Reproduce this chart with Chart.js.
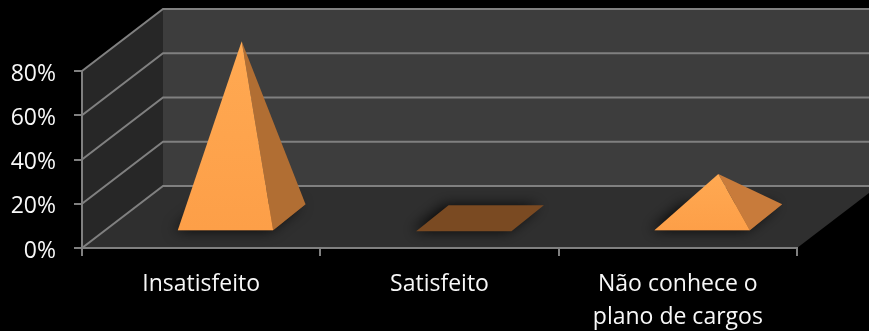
<!DOCTYPE html>
<html>
<head>
<meta charset="utf-8">
<style>
    html, body { margin: 0; padding: 0; background: #000; overflow: hidden; }
    canvas { display: block; }
</style>
<script src="https://cdn.jsdelivr.net/npm/chart.js@4"></script>
</head>
<body>
<canvas id="chart" width="869" height="331"></canvas>
<script>
const categories = ["Insatisfeito", "Satisfeito", ["Não conhece o", "plano de cargos"]];
const values = [80, 0, 20];
const tickLabels = ["0%", "20%", "40%", "60%", "80%"];

// oblique projection of the 3d box, in pixels per full depth
const DEPTH_X = 81;
const DEPTH_Y = -62;
const FRONT_X = 0.3, FRONT_Y = 0.27;
const BACK_X = 0.7, BACK_Y = 0.69;

const GRID_COLOR = "#808080";
const TEXT_COLOR = "#f8f8f8";
const FRONT_TOP = "#ffa952";
const FRONT_BOTTOM = "#fd9f48";
const SIDE_COLORS = ["#b16e33", "#c87b3b", "#c87b3b"];
const FLAT_COLOR = "#7a4a22";

function poly(ctx, pts, fill) {
    ctx.beginPath();
    pts.forEach((p, i) => (i ? ctx.lineTo(p[0], p[1]) : ctx.moveTo(p[0], p[1])));
    ctx.closePath();
    ctx.fillStyle = fill;
    ctx.fill();
}

class PyramidController extends Chart.BarController {
    draw() {
        const ctx = this.chart.ctx;
        const bars = this._cachedMeta.data;
        const data = this.getDataset().data;

        bars.forEach((bar, i) => {
            const half = bar.width / 2;
            const fx = FRONT_X * DEPTH_X, fy = FRONT_Y * DEPTH_Y;
            const bx = BACK_X * DEPTH_X, by = BACK_Y * DEPTH_Y;
            const fl = [bar.x - half + fx, bar.base + fy];
            const fr = [bar.x + half + fx, bar.base + fy];
            const br = [bar.x + half + bx, bar.base + by];
            const bl = [bar.x - half + bx, bar.base + by];
            const apex = [bar.x + (fx + bx) / 2, bar.y + (fy + by) / 2];

            ctx.save();
            ctx.shadowColor = "rgba(0,0,0,0.85)";
            ctx.shadowBlur = 14;
            ctx.shadowOffsetX = -4;
            poly(ctx, [fl, fr, br, bl], FLAT_COLOR);
            ctx.restore();

            if (data[i] > 0) {
                const grad = ctx.createLinearGradient(0, apex[1], 0, fl[1]);
                grad.addColorStop(0, FRONT_TOP);
                grad.addColorStop(1, FRONT_BOTTOM);
                poly(ctx, [fr, br, apex], SIDE_COLORS[i]);
                poly(ctx, [fl, fr, apex], grad);
            }
        });
    }
}
PyramidController.id = "pyramid";
PyramidController.defaults = Chart.BarController.defaults;
Chart.register(PyramidController);

const box3d = {
    id: "box3d",
    beforeDraw(chart) {
        const ctx = chart.ctx;
        const area = chart.chartArea;
        const yScale = chart.scales.y;
        const l = area.left, r = area.right, t = area.top, b = area.bottom;

        poly(ctx, [[l + DEPTH_X, t + DEPTH_Y], [r + DEPTH_X, t + DEPTH_Y], [r + DEPTH_X, b + DEPTH_Y], [l + DEPTH_X, b + DEPTH_Y]], "#3d3d3d");
        poly(ctx, [[l, t], [l + DEPTH_X, t + DEPTH_Y], [l + DEPTH_X, b + DEPTH_Y], [l, b]], "#272727");
        poly(ctx, [[l, b], [r, b], [r + DEPTH_X, b + DEPTH_Y], [l + DEPTH_X, b + DEPTH_Y]], "#2f2f2f");

        ctx.save();
        ctx.strokeStyle = GRID_COLOR;
        ctx.lineWidth = 2;
        yScale.ticks.forEach((tick) => {
            const y = yScale.getPixelForValue(tick.value);
            ctx.beginPath();
            ctx.moveTo(l, y);
            ctx.lineTo(l + DEPTH_X, y + DEPTH_Y);
            ctx.lineTo(r + DEPTH_X, y + DEPTH_Y);
            ctx.stroke();
        });
        ctx.restore();
    }
};

new Chart(document.getElementById("chart"), {
    type: "pyramid",
    data: {
        labels: categories,
        datasets: [{
            data: values,
            clip: false,
            categoryPercentage: 1,
            barPercentage: 0.4
        }]
    },
    options: {
        responsive: false,
        animation: false,
        layout: { padding: { top: 71, right: 72 } },
        plugins: { legend: { display: false }, tooltip: { enabled: false } },
        scales: {
            x: {
                afterFit(scale) { scale.height = 83; },
                border: { color: GRID_COLOR, width: 2 },
                grid: { drawOnChartArea: false, color: GRID_COLOR, tickLength: 8, lineWidth: 2 },
                ticks: {
                    color: TEXT_COLOR,
                    padding: 12,
                    maxRotation: 0,
                    autoSkip: false,
                    font: { family: "Open Sans", size: 23, lineHeight: 1.43 }
                }
            },
            y: {
                min: 0,
                max: 80,
                afterFit(scale) { scale.width = 82; },
                border: { color: GRID_COLOR, width: 2 },
                grid: { drawOnChartArea: false, color: GRID_COLOR, tickLength: 8, lineWidth: 2 },
                ticks: {
                    stepSize: 20,
                    color: TEXT_COLOR,
                    padding: 18,
                    labelOffset: 3,
                    font: { family: "Open Sans", size: 23 },
                    callback: (value, index) => tickLabels[index]
                }
            }
        }
    },
    plugins: [box3d]
});
</script>
</body>
</html>
